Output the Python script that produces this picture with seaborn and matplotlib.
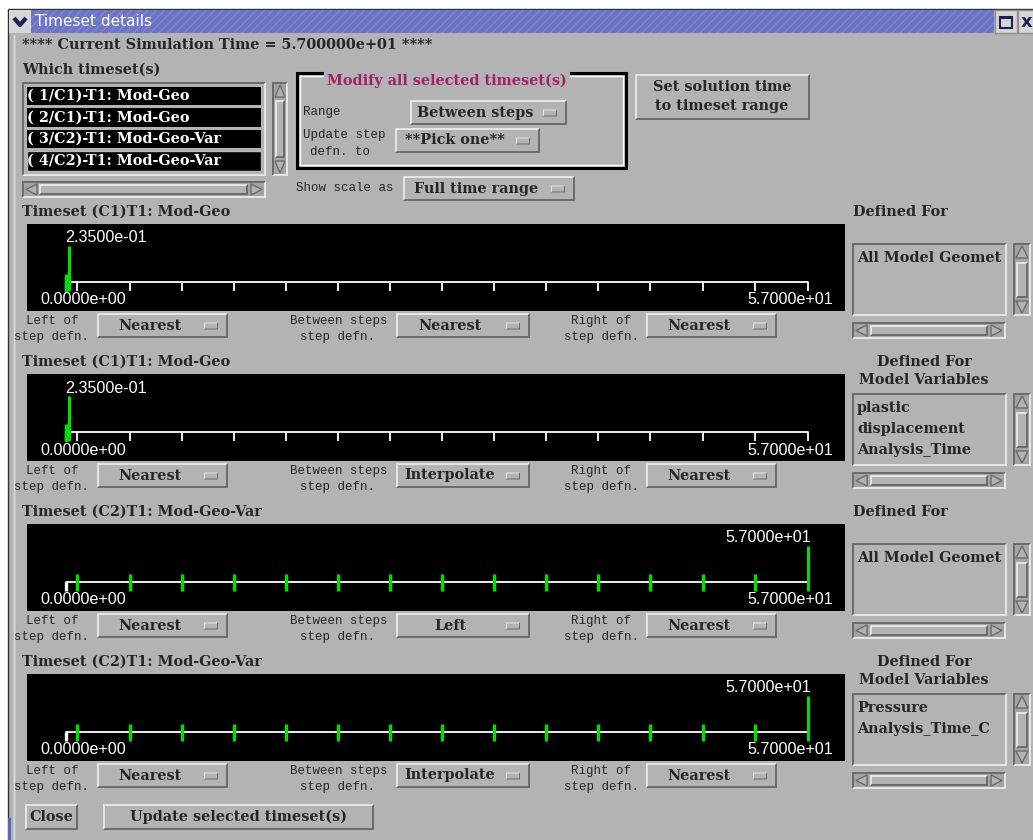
import numpy as np
import pandas as pd
import seaborn as sns
import matplotlib.pyplot as plt
from matplotlib.patches import Rectangle, Polygon

sim_time = 57.0
timeset_items = ["( 1/C1)-T1: Mod-Geo", "( 2/C1)-T1: Mod-Geo",
                 "( 3/C2)-T1: Mod-Geo-Var", "( 4/C2)-T1: Mod-Geo-Var"]
panel_titles = ["Timeset (C1)T1: Mod-Geo", "Timeset (C1)T1: Mod-Geo",
                "Timeset (C2)T1: Mod-Geo-Var", "Timeset (C2)T1: Mod-Geo-Var"]
c1_steps = [0.0, 0.235]
c2_steps = [0.85, 4.9, 8.9, 12.9, 16.9, 20.9, 24.9, 28.9, 32.9, 36.9, 40.9, 44.9, 48.9, 52.9, 57.0]
scale_ticks = [0.0, 0.85, 4.9, 8.9, 12.9, 16.9, 20.9, 24.9, 28.9, 32.9, 36.9, 40.9, 44.9, 48.9, 52.9, 57.0]
panel_steps = [c1_steps, c1_steps, c2_steps, c2_steps]
left_defn = ["Nearest", "Nearest", "Nearest", "Nearest"]
between_defn = ["Nearest", "Interpolate", "Left", "Interpolate"]
right_defn = ["Nearest", "Nearest", "Nearest", "Nearest"]
defined_header = ["Defined For", "Defined For\nModel Variables", "Defined For", "Defined For\nModel Variables"]
defined_items = [["All Model Geometry"], ["plastic", "displacement", "Analysis_Time"],
                 ["All Model Geometry"], ["Pressure", "Analysis_Time_C"]]

W, H = 1033, 840
GRAY = "#b3b3b3"
LIGHT = "#e4e4e4"
DARK = "#6c6c6c"
GREEN = "#00e000"
PURPLE = "#a3206e"
SERIF = dict(family="DejaVu Serif", weight="bold", size=10.4)
MONO = dict(family="Liberation Mono", size=9)
SANS = dict(family="Liberation Sans", size=11.6)

sns.set_theme(style="white")
fig = plt.figure(figsize=(W / 100, H / 100), dpi=100)
fig.patch.set_facecolor("white")
bg = fig.add_axes([0, 0, 1, 1])
bg.set_xlim(0, W)
bg.set_ylim(H, 0)
bg.axis("off")


def rect(x0, y0, x1, y1, **kw):
    p = Rectangle((x0, y0), x1 - x0, y1 - y0, **kw)
    bg.add_patch(p)
    return p


def bevel(x0, y0, x1, y1, raised=True, face=GRAY, w=2):
    rect(x0, y0, x1, y1, facecolor=face, edgecolor="none")
    hi, lo = (LIGHT, DARK) if raised else (DARK, LIGHT)
    bg.add_patch(Polygon([(x0, y0), (x1, y0), (x1 - w, y0 + w), (x0 + w, y0 + w),
                          (x0 + w, y1 - w), (x0, y1)], facecolor=hi, edgecolor="none"))
    bg.add_patch(Polygon([(x1, y1), (x0, y1), (x0 + w, y1 - w), (x1 - w, y1 - w),
                          (x1 - w, y0 + w), (x1, y0)], facecolor=lo, edgecolor="none"))


def option_button(x0, y0, x1, y1, label):
    bevel(x0, y0, x1, y1)
    ym = (y0 + y1) / 2
    bg.text((x0 + x1 - 26) / 2, ym, label, ha="center", va="center", **SERIF)
    bevel(x1 - 24, ym - 3, x1 - 10, ym + 4, w=1)


def arrow(pts):
    bg.add_patch(Polygon(pts, facecolor=GRAY, edgecolor=DARK, lw=1))


def hscroll(x0, y0, x1, y1, s0, s1):
    bevel(x0, y0, x1, y1, raised=False, face="#a4a4a4")
    ym = (y0 + y1) / 2
    arrow([(x0 + 4, ym), (x0 + 15, y0 + 3), (x0 + 15, y1 - 3)])
    arrow([(x1 - 4, ym), (x1 - 15, y0 + 3), (x1 - 15, y1 - 3)])
    bevel(s0, y0 + 3, s1, y1 - 3)


def vscroll(x0, y0, x1, y1, s0, s1):
    bevel(x0, y0, x1, y1, raised=False, face="#a4a4a4")
    xm = (x0 + x1) / 2
    arrow([(xm, y0 + 3), (x0 + 3, y0 + 15), (x1 - 3, y0 + 15)])
    arrow([(xm, y1 - 3), (x0 + 3, y1 - 15), (x1 - 3, y1 - 15)])
    bevel(x0 + 3, s0, x1 - 3, s1)


# ---- window frame and title bar ----
rect(8, 9, W + 2, H + 2, facecolor=GRAY, edgecolor="#303030", lw=1)
rect(8, 818, 11, H, facecolor="#5a66c0", edgecolor="none")
rect(9, 10, 994, 33, facecolor="#6c74c6", edgecolor="#7f87d2", hatch="////", lw=0)
rect(9, 10, 31, 33, facecolor="#d6d6d6", edgecolor="none")
bg.plot([14, 20, 26], [18, 25, 18], color="#1c2258", lw=3, solid_capstyle="butt")
bg.text(35, 22, "Timeset details", color="white", ha="left", va="center",
        family="DejaVu Sans", size=11)
rect(995, 10, 1017, 33, facecolor="#d6d6d6", edgecolor="#909090", lw=1)
rect(1000, 17, 1012, 28, facecolor="none", edgecolor="#1c2258", lw=1.5)
rect(1000, 17, 1012, 19, facecolor="#1c2258", edgecolor="none")
rect(1018, 10, W + 2, 33, facecolor="#d6d6d6", edgecolor="#909090", lw=1)
bg.text(1021, 22, "x", color="#1c2258", ha="left", va="center", family="DejaVu Sans",
        weight="bold", size=13)
bg.plot([14, 14], [35, H], color=LIGHT, lw=1)

# ---- header area ----
bg.text(22, 45, f"**** Current Simulation Time = {sim_time:.6e} ****", ha="left", va="center", **SERIF)
bg.text(22, 70, "Which timeset(s)", ha="left", va="center", **SERIF)
bevel(22, 82, 266, 176, raised=False)
row_y = [(87, 105), (108, 127), (130, 148), (151, 171)]
for i, (item, (r0, r1)) in enumerate(zip(timeset_items, row_y)):
    rect(27, r0, 261, r1, facecolor="black", edgecolor="#b8b8b8" if i == 3 else "none", lw=1)
    bg.text(27, (r0 + r1) / 2, item, color="white", ha="left", va="center", **SERIF)
vscroll(272, 82, 288, 176, 100, 158)
hscroll(22, 181, 266, 198, 39, 248)

# group box
rect(297, 73, 626, 168, facecolor="none", edgecolor="black", lw=2.2)
rect(300, 76, 623, 165, facecolor="none", edgecolor="white", lw=1)
bg.text(447, 81, "Modify all selected timeset(s)", color=PURPLE, ha="center", va="center",
        bbox=dict(facecolor=GRAY, edgecolor="none", pad=2), **SERIF)
bg.text(303, 112, "Range", ha="left", va="center", **MONO)
option_button(410, 100, 567, 125, "Between steps")
bg.text(303, 135, "Update step", ha="left", va="center", **MONO)
bg.text(310, 152, "defn. to", ha="left", va="center", **MONO)
option_button(395, 128, 540, 153, "**Pick one**")
bevel(635, 74, 810, 120)
bg.text(722, 87, "Set solution time", ha="center", va="center", **SERIF)
bg.text(722, 106, "to timeset range", ha="center", va="center", **SERIF)
bg.text(296, 188, "Show scale as", ha="left", va="center", **MONO)
option_button(403, 176, 575, 201, "Full time range")

# ---- timeset panels ----
px_per = (808 - 66) / sim_time
x_lo = -(66 - 27) / px_per
x_hi = sim_time + (845 - 808) / px_per
for i in range(4):
    dy = 150 * i
    bg.text(22, 212 + dy, panel_titles[i], ha="left", va="center", **SERIF)

    ax = fig.add_axes([27 / W, 1 - (311 + dy) / H, (845 - 27) / W, 87 / H])
    ax.set_facecolor("black")
    ax.set_xlim(x_lo, x_hi)
    ax.set_ylim(-29, 58)
    ax.set_xticks([])
    ax.set_yticks([])
    for s in ax.spines.values():
        s.set_visible(False)

    steps = panel_steps[i]
    sns.lineplot(x=[0.0, sim_time], y=[0, 0], color="white", lw=1.3, ax=ax)
    ax.vlines(scale_ticks[1:], -9, 0, color="white", lw=1.3, capstyle="butt")
    ax.vlines(scale_ticks[:1], -9, 0, color="white", lw=2.4, capstyle="butt")
    ax.vlines(steps[:-1], -9, 8, color=GREEN, lw=2.4, capstyle="butt")
    ax.vlines(steps[-1:], -9, 36, color=GREEN, lw=2.2, capstyle="butt")

    last = steps[-1]
    if last < sim_time / 2:
        ax.annotate(f"{last:.4e}", (last, 44), xytext=(-4, 0), textcoords="offset pixels",
                    ha="left", va="center", color="white", **SANS)
    else:
        ax.annotate(f"{last:.4e}", (last, 44), xytext=(3, 0), textcoords="offset pixels",
                    ha="right", va="center", color="white", **SANS)
    ax.annotate(f"{0.0:.4e}", (0, -18), xytext=(-26, 0), textcoords="offset pixels",
                ha="left", va="center", color="white", **SANS)
    ax.annotate(f"{sim_time:.4e}", (sim_time, -18), xytext=(25, 0), textcoords="offset pixels",
                ha="right", va="center", color="white", **SANS)

    # interpolation controls under the timeline
    bg.text(52, 321 + dy, "Left of", ha="center", va="center", **MONO)
    bg.text(52, 337 + dy, "step defn.", ha="center", va="center", **MONO)
    option_button(97, 313 + dy, 228, 338 + dy, left_defn[i])
    bg.text(339, 321 + dy, "Between steps", ha="center", va="center", **MONO)
    bg.text(337, 337 + dy, "step defn.", ha="center", va="center", **MONO)
    option_button(396, 313 + dy, 530, 338 + dy, between_defn[i])
    bg.text(601, 321 + dy, "Right of", ha="center", va="center", **MONO)
    bg.text(602, 337 + dy, "step defn.", ha="center", va="center", **MONO)
    option_button(646, 313 + dy, 777, 338 + dy, right_defn[i])

    # defined-for list
    if "\n" in defined_header[i]:
        l1, l2 = defined_header[i].split("\n")
        bg.text(924, 362 - 150 + dy, l1, ha="center", va="center", **SERIF)
        bg.text(924, 380 - 150 + dy, l2, ha="center", va="center", **SERIF)
    else:
        bg.text(853, 212 + dy, defined_header[i], ha="left", va="center", **SERIF)
    bevel(852, 243 + dy, 1007, 316 + dy, raised=False)
    clip = rect(854, 245 + dy, 1002, 314 + dy, facecolor="none", edgecolor="none")
    for k, name in enumerate(defined_items[i]):
        t = bg.text(857, 258 + 21 * k + dy, name, ha="left", va="center", clip_on=True, **SERIF)
        t.set_clip_path(clip)
    vscroll(1013, 243 + dy, 1031, 316 + dy, 262 + dy, 298 + dy)
    hscroll(852, 322 + dy, 1006, 339 + dy, 870, 988)

# ---- bottom buttons ----
bevel(25, 804, 78, 830)
bg.text(51, 817, "Close", ha="center", va="center", **SERIF)
bevel(103, 804, 374, 830)
bg.text(238, 817, "Update selected timeset(s)", ha="center", va="center", **SERIF)

fig.savefig("out.png", dpi=100, facecolor=fig.get_facecolor())
